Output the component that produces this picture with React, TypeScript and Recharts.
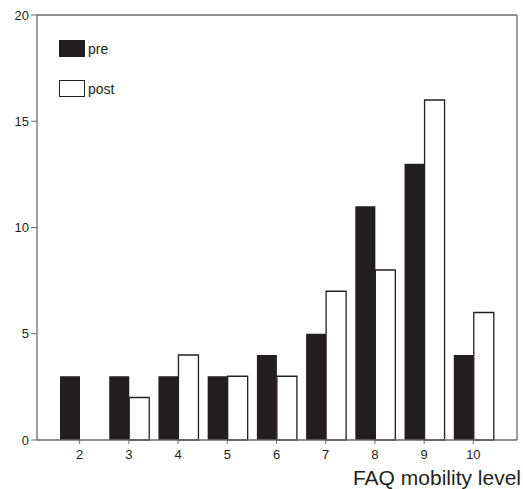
import { BarChart, Bar, XAxis, YAxis } from "recharts";

const levels = ["2", "3", "4", "5", "6", "7", "8", "9", "10"];
const preCounts = [3, 3, 3, 3, 4, 5, 11, 13, 4];
const postCounts = [0, 2, 4, 3, 3, 7, 8, 16, 6];
const yTicks = [0, 5, 10, 15, 20];

const ink = "#231f20";
const axisGrey = "#6a6a6a";
const font = "'Liberation Sans', Arial, sans-serif";

const chartData = levels.map((lvl, i) => ({
  level: lvl,
  pre: preCounts[i],
  post: postCounts[i],
}));

function LegendBox() {
  const row = (label: string, fill: string, top: number) => (
    <div style={{ position: "absolute", left: 59, top, display: "flex", alignItems: "center" }}>
      <div
        style={{
          width: 26,
          height: 17,
          background: fill,
          border: `1px solid ${ink}`,
          boxSizing: "border-box",
        }}
      />
      <span style={{ marginLeft: 3, fontSize: 14, color: ink, fontFamily: font }}>{label}</span>
    </div>
  );
  return (
    <>
      {row("pre", ink, 40)}
      {row("post", "#ffffff", 80)}
    </>
  );
}

function AxisTitle(props: any) {
  const vb = props.viewBox;
  return (
    <text
      x={vb.x + vb.width + 4}
      y={485}
      textAnchor="end"
      fontSize={21}
      fontFamily={font}
      fill={ink}
    >
      FAQ mobility level
    </text>
  );
}

export default function App() {
  return (
    <div style={{ position: "absolute", left: 0, top: 0, width: 523, height: 489, background: "#fff" }}>
      <BarChart
        width={523}
        height={489}
        data={chartData}
        margin={{ top: 14, right: 5, bottom: 0, left: 0 }}
        barGap={0}
        barSize={20}
      >
        <XAxis
          dataKey="level"
          height={49}
          padding={{ left: 18, right: 19 }}
          tickLine={{ stroke: axisGrey }}
          tickSize={4}
          tickMargin={6}
          axisLine={{ stroke: axisGrey, strokeWidth: 1.3 }}
          tick={{ fontSize: 13, fill: ink, fontFamily: font }}
          label={<AxisTitle />}
        />
        <XAxis
          xAxisId="top"
          dataKey="level"
          orientation="top"
          height={1}
          padding={{ left: 18, right: 19 }}
          tick={false}
          tickLine={false}
          axisLine={{ stroke: axisGrey, strokeWidth: 1.3 }}
        />
        <YAxis
          width={37}
          domain={[0, 20]}
          ticks={yTicks}
          tickSize={6}
          tickLine={{ stroke: axisGrey }}
          axisLine={{ stroke: axisGrey, strokeWidth: 1.3 }}
          tick={{ fontSize: 13, fill: ink, fontFamily: font }}
        />
        <YAxis
          yAxisId="right"
          orientation="right"
          width={1}
          domain={[0, 20]}
          tick={false}
          tickLine={false}
          axisLine={{ stroke: axisGrey, strokeWidth: 1.3 }}
        />
        <Bar dataKey="pre" fill={ink} isAnimationActive={false} />
        <Bar dataKey="post" fill="#ffffff" stroke={ink} strokeWidth={1.3} isAnimationActive={false} />
      </BarChart>
      <LegendBox />
    </div>
  );
}
